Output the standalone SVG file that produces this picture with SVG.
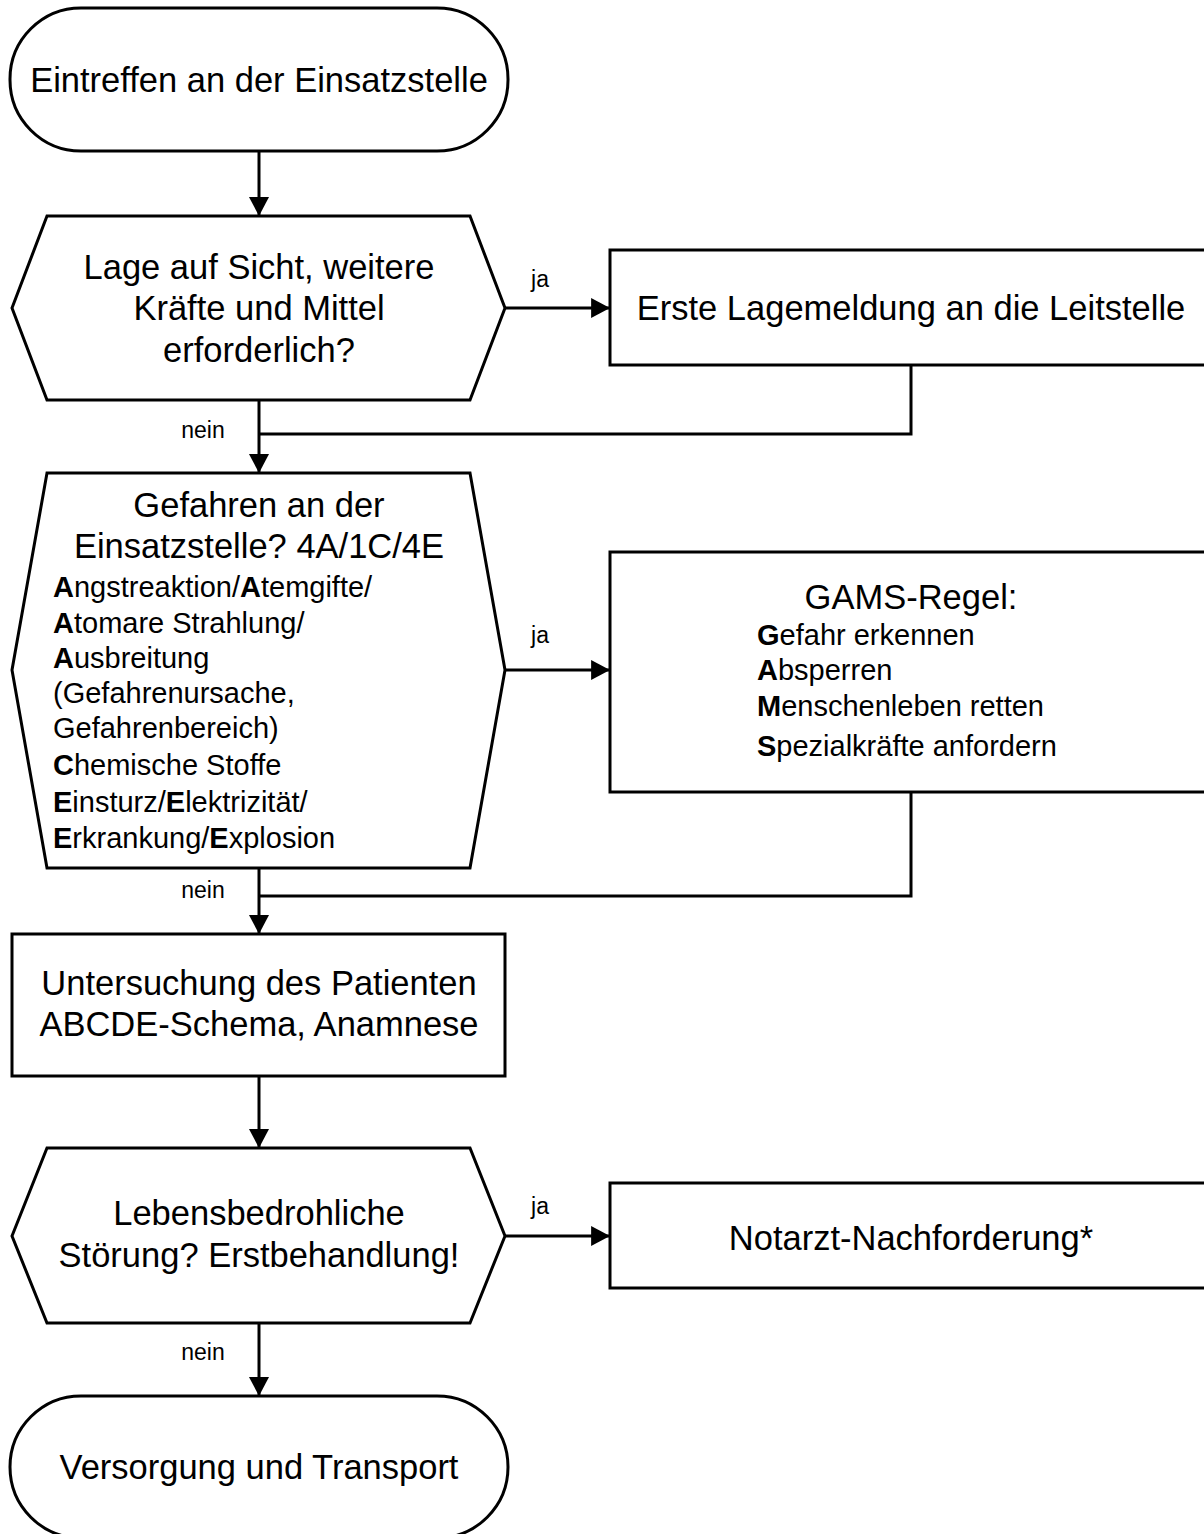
<svg xmlns="http://www.w3.org/2000/svg" width="1204" height="1534" viewBox="0 0 1204 1534">
<defs>
<marker id="arr" markerUnits="userSpaceOnUse" markerWidth="20" markerHeight="20" viewBox="0 0 18 18" refX="17" refY="9" orient="auto">
<path d="M0,0 L17,9 L0,18 Z" fill="#000"/>
</marker>
<style>
.sh{fill:#fff;stroke:#000;stroke-width:3;stroke-linejoin:miter}
.ln{fill:none;stroke:#000;stroke-width:3}
text{font-family:"Liberation Sans",Arial,sans-serif;fill:#000}
.big{font-size:34.5px;text-anchor:middle}
.sm{font-size:29px}
.lbl{font-size:23px;text-anchor:middle}
.b{font-weight:bold}
</style>
</defs>
<rect width="1204" height="1534" fill="#fff"/>

<g id="connectors">
<line class="ln" x1="259" y1="151" x2="259" y2="216" marker-end="url(#arr)"/>
<line class="ln" x1="505" y1="308" x2="610" y2="308" marker-end="url(#arr)"/>
<polyline class="ln" points="911,365 911,434 259,434"/>
<line class="ln" x1="259" y1="400" x2="259" y2="473" marker-end="url(#arr)"/>
<line class="ln" x1="505" y1="670" x2="610" y2="670" marker-end="url(#arr)"/>
<polyline class="ln" points="911,792 911,896 259,896"/>
<line class="ln" x1="259" y1="868" x2="259" y2="934" marker-end="url(#arr)"/>
<line class="ln" x1="259" y1="1076" x2="259" y2="1148" marker-end="url(#arr)"/>
<line class="ln" x1="505" y1="1236" x2="610" y2="1236" marker-end="url(#arr)"/>
<line class="ln" x1="259" y1="1323" x2="259" y2="1396" marker-end="url(#arr)"/>
<text class="lbl" x="540" y="287">ja</text>
<text class="lbl" x="203" y="438">nein</text>
<text class="lbl" x="540" y="643">ja</text>
<text class="lbl" x="203" y="898">nein</text>
<text class="lbl" x="540" y="1214">ja</text>
<text class="lbl" x="203" y="1360">nein</text>
</g>

<g id="start">
<rect class="sh" x="10" y="8" width="498" height="143" rx="71" ry="71"/>
<text class="big" x="259" y="92">Eintreffen an der Einsatzstelle</text>
</g>

<g id="decision1">
<polygon class="sh" points="12,308 47,216 470,216 505,308 470,400 47,400"/>
<text class="big" x="259" y="279">Lage auf Sicht, weitere</text>
<text class="big" x="259" y="320">Kräfte und Mittel</text>
<text class="big" x="259" y="362">erforderlich?</text>
</g>

<g id="lagemeldung">
<rect class="sh" x="610" y="250" width="602" height="115"/>
<text class="big" x="911" y="320">Erste Lagemeldung an die Leitstelle</text>
</g>

<g id="decision2">
<polygon class="sh" points="12,670 47,473 470,473 505,670 470,868 47,868"/>
<text class="big" x="259" y="517">Gefahren an der</text>
<text class="big" x="259" y="558">Einsatzstelle? 4A/1C/4E</text>
<text class="sm" x="53" y="597"><tspan class="b">A</tspan>ngstreaktion/<tspan class="b">A</tspan>temgifte/</text>
<text class="sm" x="53" y="633"><tspan class="b">A</tspan>tomare Strahlung/</text>
<text class="sm" x="53" y="668"><tspan class="b">A</tspan>usbreitung</text>
<text class="sm" x="53" y="703">(Gefahrenursache,</text>
<text class="sm" x="53" y="738">Gefahrenbereich)</text>
<text class="sm" x="53" y="775"><tspan class="b">C</tspan>hemische Stoffe</text>
<text class="sm" x="53" y="812"><tspan class="b">E</tspan>insturz/<tspan class="b">E</tspan>lektrizität/</text>
<text class="sm" x="53" y="848"><tspan class="b">E</tspan>rkrankung/<tspan class="b">E</tspan>xplosion</text>
</g>

<g id="gams">
<rect class="sh" x="610" y="552" width="602" height="240"/>
<text class="big" x="911" y="609">GAMS-Regel:</text>
<text class="sm" x="757" y="645"><tspan class="b">G</tspan>efahr erkennen</text>
<text class="sm" x="757" y="680"><tspan class="b">A</tspan>bsperren</text>
<text class="sm" x="757" y="716"><tspan class="b">M</tspan>enschenleben retten</text>
<text class="sm" x="757" y="756"><tspan class="b">S</tspan>pezialkräfte anfordern</text>
</g>

<g id="untersuchung">
<rect class="sh" x="12" y="934" width="493" height="142"/>
<text class="big" x="259" y="995">Untersuchung des Patienten</text>
<text class="big" x="259" y="1036">ABCDE-Schema, Anamnese</text>
</g>

<g id="decision3">
<polygon class="sh" points="12,1236 47,1148 470,1148 505,1236 470,1323 47,1323"/>
<text class="big" x="259" y="1225">Lebensbedrohliche</text>
<text class="big" x="259" y="1267">Störung? Erstbehandlung!</text>
</g>

<g id="notarzt">
<rect class="sh" x="610" y="1183" width="602" height="105"/>
<text class="big" x="911" y="1250">Notarzt-Nachforderung*</text>
</g>

<g id="end">
<rect class="sh" x="10" y="1396" width="498" height="142" rx="71" ry="71"/>
<text class="big" x="259" y="1479">Versorgung und Transport</text>
</g>
</svg>
